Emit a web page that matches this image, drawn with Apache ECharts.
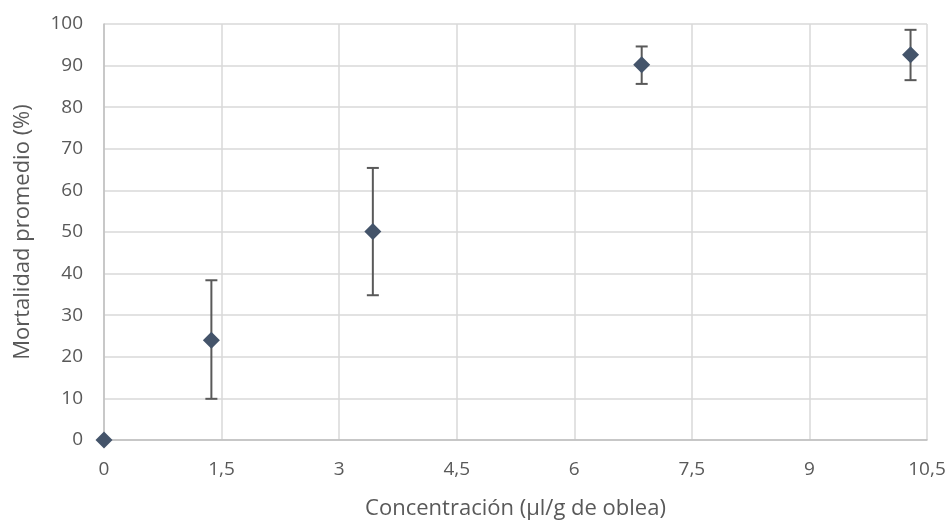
<!DOCTYPE html>
<html lang="es">
<head>
    <meta charset="UTF-8">
    <title>Mortalidad promedio</title>
    <script src="https://cdn.jsdelivr.net/npm/echarts@6/dist/echarts.min.js"></script>
    <style>
        html, body { margin: 0; padding: 0; background: #fff; }
        #chart { width: 952px; height: 525px; }
    </style>
</head>
<body>
<div id="chart"></div>
<script>
    // datos
    var concentracion = [0, 1.37, 3.43, 6.86, 10.29];
    var mortalidad = [0, 24.0, 50.1, 90.2, 92.6];
    var errorAlto = [0, 38.4, 65.4, 94.6, 98.6];
    var errorBajo = [0, 9.9, 34.8, 85.6, 86.5];

    var puntos = [];
    var barras = [];
    for (var i = 0; i < concentracion.length; i++) {
        puntos.push([concentracion[i], mortalidad[i]]);
        if (errorAlto[i] !== errorBajo[i]) {
            barras.push([concentracion[i], errorBajo[i], errorAlto[i]]);
        }
    }

    var gris = '#595959';
    var fuente = '"Open Sans", "Liberation Sans", sans-serif';

    var myChart = echarts.init(document.getElementById('chart'));
    myChart.setOption({
        animation: false,
        textStyle: { fontFamily: fuente },
        grid: { left: 104, right: 25, top: 24, bottom: 84 },
        xAxis: {
            type: 'value',
            min: 0,
            max: 10.5,
            interval: 1.5,
            name: 'Concentración (µl/g de oblea)',
            nameLocation: 'middle',
            nameGap: 58,
            nameTextStyle: { color: gris, fontSize: 22, fontFamily: fuente },
            axisLine: { show: true, lineStyle: { color: '#bfbfbf', width: 1.5 } },
            axisTick: { show: false },
            axisLabel: {
                color: gris, fontSize: 19, margin: 20, fontFamily: fuente,
                formatter: function (v) { return String(v).replace('.', ','); }
            },
            splitLine: { show: true, lineStyle: { color: '#d9d9d9', width: 1.5 } }
        },
        yAxis: {
            type: 'value',
            min: 0,
            max: 100,
            interval: 10,
            name: 'Mortalidad promedio (%)',
            nameLocation: 'middle',
            nameGap: 70,
            nameTextStyle: { color: gris, fontSize: 22, fontFamily: fuente },
            axisLine: { show: true, lineStyle: { color: '#bfbfbf', width: 1.5 } },
            axisTick: { show: false },
            axisLabel: { color: gris, fontSize: 19, margin: 21, fontFamily: fuente },
            splitLine: { show: true, lineStyle: { color: '#d9d9d9', width: 1.5 } }
        },
        series: [
            {
                type: 'custom',
                data: barras,
                z: 2,
                renderItem: function (params, api) {
                    var x = api.value(0);
                    var abajo = api.coord([x, api.value(1)]);
                    var arriba = api.coord([x, api.value(2)]);
                    var w = 6;
                    var estilo = { stroke: '#595959', lineWidth: 2 };
                    return {
                        type: 'group',
                        children: [
                            { type: 'line', shape: { x1: arriba[0], y1: arriba[1], x2: abajo[0], y2: abajo[1] }, style: estilo },
                            { type: 'line', shape: { x1: arriba[0] - w, y1: arriba[1], x2: arriba[0] + w, y2: arriba[1] }, style: estilo },
                            { type: 'line', shape: { x1: abajo[0] - w, y1: abajo[1], x2: abajo[0] + w, y2: abajo[1] }, style: estilo }
                        ]
                    };
                }
            },
            {
                type: 'scatter',
                data: puntos,
                symbol: 'diamond',
                symbolSize: [17, 17],
                z: 3,
                itemStyle: { color: '#44546a', opacity: 1 }
            }
        ]
    });
</script>
</body>
</html>
